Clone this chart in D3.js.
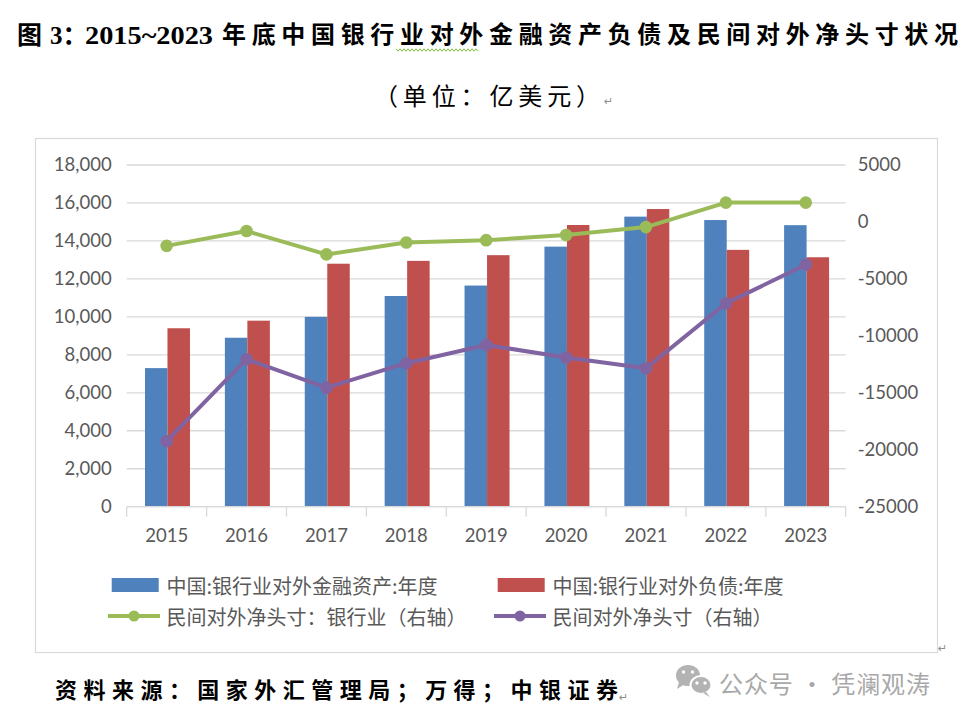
<!DOCTYPE html>
<html>
<head>
<meta charset="utf-8">
<script src="https://cdn.jsdelivr.net/npm/d3@7"></script>
<style>
  body { margin: 0; background: #fff; }
  svg { display: block; }
</style>
</head>
<body>
<svg id="chart" width="962" height="720"></svg>
<script>
// data (亿美元)
var years = ["2015", "2016", "2017", "2018", "2019", "2020", "2021", "2022", "2023"];
var assets = [7300, 8900, 10000, 11100, 11650, 13700, 15280, 15100, 14830];
var liabilities = [9400, 9800, 12800, 12950, 13250, 14840, 15680, 13530, 13140];
var bankNet = [-2100, -800, -2850, -1800, -1600, -1150, -450, 1700, 1700];
var privateNet = [-19250, -12050, -14550, -12400, -10800, -11900, -12850, -7150, -3750];

var leftTicks = [0, 2000, 4000, 6000, 8000, 10000, 12000, 14000, 16000, 18000];
var rightTicks = [-25000, -20000, -15000, -10000, -5000, 0, 5000];

var seriesNames = ["中国:银行业对外金融资产:年度", "中国:银行业对外负债:年度",
                   "民间对外净头寸：银行业（右轴）", "民间对外净头寸（右轴）"];
var colors = ["#4f81bd", "#c0504d", "#9bbb59", "#8064a2"];

var svg = d3.select("svg#chart");
var cjk = "'Noto Sans CJK SC', 'Noto Sans', sans-serif";
var serif = "'Liberation Serif', 'Noto Sans CJK SC', serif";

var margin = { left: 126.7, right: 845.7, top: 165, bottom: 506.7 };

// title + unit line
var titleBold = 700;
svg.append("text").attr("x", 17).attr("y", 35).attr("dominant-baseline", "central")
    .style("font-family", serif).style("font-size", "25px").style("font-weight", titleBold)
    .text("图");
svg.append("text").attr("x", 50).attr("y", 35).attr("dominant-baseline", "central")
    .style("font-family", serif).style("font-size", "25px").style("font-weight", titleBold)
    .text("3：");
svg.append("text").attr("x", 85).attr("y", 35).attr("dominant-baseline", "central")
    .attr("textLength", 128).attr("lengthAdjust", "spacingAndGlyphs")
    .style("font-family", serif).style("font-size", "26px").style("font-weight", titleBold)
    .text("2015~2023");
svg.append("text").attr("x", 222).attr("y", 35).attr("dominant-baseline", "central")
    .attr("textLength", 736).attr("lengthAdjust", "spacing")
    .style("font-family", serif).style("font-size", "24px").style("font-weight", titleBold)
    .text("年底中国银行业对外金融资产负债及民间对外净头寸状况");

// spell-check squiggle under 业对外
var squiggle = d3.range(0, 42).map(function (i) { return [396 + i * 2, 50 + (i % 2 ? 1.2 : -1.2)]; });
svg.append("path").attr("d", d3.line()(squiggle))
    .attr("fill", "none").attr("stroke", "#7fbf3f").attr("stroke-width", 1);

svg.append("text").attr("x", 374).attr("y", 97).attr("dominant-baseline", "central")
    .attr("textLength", 226).attr("lengthAdjust", "spacing")
    .style("font-family", serif).style("font-size", "24px")
    .text("（单位：亿美元）");

// chart frame
svg.append("rect").attr("x", 35.5).attr("y", 138.5).attr("width", 902).attr("height", 514)
    .attr("fill", "#fff").attr("stroke", "#d9d9d9").attr("stroke-width", 1.2);

var x = d3.scaleBand().domain(years).range([margin.left, margin.right]);
var bw = x.bandwidth();
var x1 = d3.scaleBand().domain(["a", "l"]).range([bw * 0.229, bw * 0.792]);

var yL = d3.scaleLinear().domain([0, 18000]).range([margin.bottom, margin.top]);
var yR = d3.scaleLinear().domain([-25000, 5000]).range([margin.bottom, margin.top]);

// gridlines from left axis
svg.append("g").selectAll("line").data(leftTicks).enter().append("line")
    .attr("x1", margin.left).attr("x2", margin.right)
    .attr("y1", function (d) { return yL(d); }).attr("y2", function (d) { return yL(d); })
    .attr("stroke", "#d9d9d9").attr("stroke-width", 1.3);

// category ticks on bottom axis
svg.append("g").selectAll("line").data(d3.range(years.length + 1)).enter().append("line")
    .attr("x1", function (i) { return margin.left + i * x.step(); })
    .attr("x2", function (i) { return margin.left + i * x.step(); })
    .attr("y1", margin.bottom).attr("y2", margin.bottom + 10)
    .attr("stroke", "#d9d9d9").attr("stroke-width", 1.3);

// bars
var barRows = years.map(function (y, i) { return { year: y, a: assets[i], l: liabilities[i] }; });
var groups = svg.append("g").selectAll("g").data(barRows).enter().append("g")
    .attr("transform", function (d) { return "translate(" + x(d.year) + ",0)"; });
groups.selectAll("rect").data(function (d) {
        return [{ key: "a", value: d.a }, { key: "l", value: d.l }];
    }).enter().append("rect")
    .attr("x", function (d) { return x1(d.key); })
    .attr("width", x1.bandwidth())
    .attr("y", function (d) { return yL(d.value); })
    .attr("height", function (d) { return yL(0) - yL(d.value); })
    .attr("fill", function (d) { return d.key === "a" ? colors[0] : colors[1]; });

// lines on right axis
var line = d3.line()
    .x(function (d, i) { return x(years[i]) + bw / 2; })
    .y(function (d) { return yR(d); });

[[bankNet, colors[2]], [privateNet, colors[3]]].forEach(function (s) {
    svg.append("path").datum(s[0]).attr("d", line)
        .attr("fill", "none").attr("stroke", s[1]).attr("stroke-width", 4)
        .attr("stroke-linejoin", "round");
    svg.append("g").selectAll("circle").data(s[0]).enter().append("circle")
        .attr("cx", function (d, i) { return x(years[i]) + bw / 2; })
        .attr("cy", function (d) { return yR(d); })
        .attr("r", 6.3).attr("fill", s[1]);
});

// axes
var axisFont = "'Lato', 'Liberation Sans', sans-serif";
var leftAxis = svg.append("g").attr("transform", "translate(" + margin.left + ",0)")
    .call(d3.axisLeft(yL).tickValues(leftTicks).tickSize(0).tickPadding(15).tickFormat(d3.format(",")));
var rightAxis = svg.append("g").attr("transform", "translate(" + margin.right + ",0)")
    .call(d3.axisRight(yR).tickValues(rightTicks).tickSize(0).tickPadding(12)
        .tickFormat(function (d) { return String(d); }));
var bottomAxis = svg.append("g").attr("transform", "translate(0," + margin.bottom + ")")
    .call(d3.axisBottom(x).tickSize(0).tickPadding(22));

[leftAxis, rightAxis, bottomAxis].forEach(function (a) {
    a.select(".domain").remove();
    a.selectAll("text").style("font-family", axisFont).style("font-size", "18.5px").attr("fill", "#595959");
});
bottomAxis.append("line").attr("x1", margin.left).attr("x2", margin.right)
    .attr("stroke", "#d9d9d9").attr("stroke-width", 1.3);

// legend
var legend = svg.append("g");
var legendItems = [
    { x: 108, y: 585, kind: "bar" },
    { x: 494, y: 585, kind: "bar" },
    { x: 108, y: 616, kind: "line" },
    { x: 494, y: 616, kind: "line" }
];
legendItems.forEach(function (it, i) {
    if (it.kind === "bar") {
        legend.append("rect").attr("x", it.x + 3.7).attr("y", it.y - 7).attr("width", 47).attr("height", 14)
            .attr("fill", colors[i]);
    } else {
        legend.append("line").attr("x1", it.x).attr("x2", it.x + 52).attr("y1", it.y).attr("y2", it.y)
            .attr("stroke", colors[i]).attr("stroke-width", 4);
        legend.append("circle").attr("cx", it.x + 26).attr("cy", it.y).attr("r", 5.5).attr("fill", colors[i]);
    }
    legend.append("text").attr("x", it.x + 58.5).attr("y", it.y).attr("dominant-baseline", "central")
        .style("font-family", cjk).style("font-size", "20px").attr("fill", "#595959")
        .text(seriesNames[i]);
});

// source line
svg.append("text").attr("x", 55).attr("y", 690).attr("dominant-baseline", "central")
    .attr("textLength", 563).attr("lengthAdjust", "spacing")
    .style("font-family", serif).style("font-size", "22px").style("font-weight", 700)
    .text("资料来源：国家外汇管理局；万得；中银证券");

// paragraph marks
[[604, 101], [938, 648], [619, 697]].forEach(function (p) {
    svg.append("text").attr("x", p[0]).attr("y", p[1]).attr("dominant-baseline", "central")
        .style("font-family", "'DejaVu Sans', sans-serif").style("font-size", "11px").attr("fill", "#8c8c8c")
        .text("↵");
});

// watermark
var wm = svg.append("g");
wm.append("ellipse").attr("cx", 688).attr("cy", 675.5).attr("rx", 12).attr("ry", 10.5).attr("fill", "#b3b3b3");
wm.append("path").attr("d", "M679,682 L677,689 L685,684 Z").attr("fill", "#b3b3b3");
wm.append("ellipse").attr("cx", 701).attr("cy", 685).attr("rx", 10.5).attr("ry", 9)
    .attr("fill", "#b3b3b3").attr("stroke", "#fff").attr("stroke-width", 2);
wm.append("path").attr("d", "M706,692 L710,697 L703,693 Z").attr("fill", "#b3b3b3");
[[683.5, 672], [692.5, 672], [697, 683], [705, 683]].forEach(function (e) {
    wm.append("circle").attr("cx", e[0]).attr("cy", e[1]).attr("r", 1.7).attr("fill", "#fff");
});
wm.append("text").attr("x", 719).attr("y", 682).attr("dominant-baseline", "central")
    .attr("textLength", 211).attr("lengthAdjust", "spacing")
    .style("font-family", cjk).style("font-size", "24px").attr("fill", "#a8a8a8")
    .text("公众号 · 凭澜观涛");
</script>
</body>
</html>
